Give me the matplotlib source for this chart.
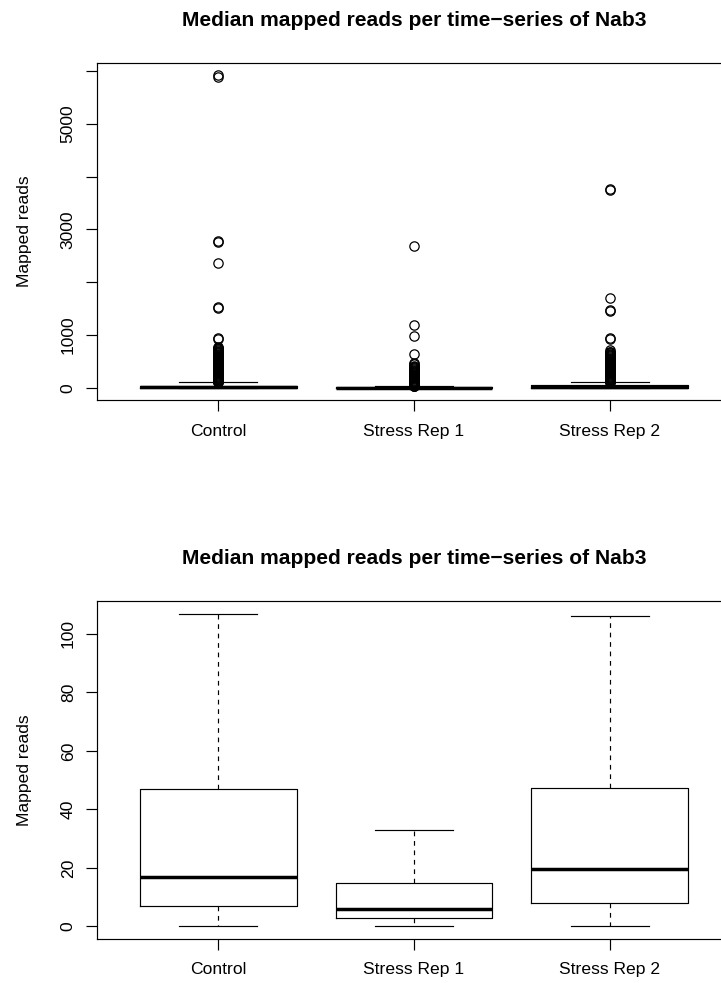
import matplotlib
matplotlib.use("Agg")
import matplotlib.pyplot as plt

plt.rcParams["font.family"] = ["Liberation Sans", "DejaVu Sans"]

# Per-group summary of median mapped reads
groups = ["Control", "Stress Rep 1", "Stress Rep 2"]
q1 = [7, 3, 8]
medians = [17, 6, 19.5]
q3 = [47, 15, 47.5]
whisker_low = [0, 0, 0]
whisker_high = [107, 33, 106]

# Points beyond the upper fence
control_outliers = [
    5895, 5920, 2760, 2780, 2360, 1510, 1535, 950, 935,
    785, 765, 750, 735, 720, 705, 690, 675, 660, 645, 630, 615, 600,
    585, 570, 555, 540, 525, 510, 495, 480, 465, 450, 435, 420, 405,
    390, 375, 360, 345, 330, 315, 300, 285, 270, 255, 240, 225, 212,
    200, 188, 176, 165, 155, 146, 138, 130, 123, 117, 112, 108,
]
rep1_outliers = [
    2680, 1200, 980, 635, 475, 455,
    420, 405, 390, 375, 360, 345, 330, 315, 300, 285, 270, 255, 240,
    225, 210, 195, 180, 166, 153, 141, 130, 120, 110, 100, 91, 83, 75,
    68, 62, 56, 50, 45, 41, 37, 35,
]
rep2_outliers = [
    3745, 3770, 1710, 1450, 1470, 955, 930, 725,
    690, 675, 660, 645, 630, 615, 600, 585, 570, 555, 540, 525, 510,
    495, 480, 465, 450, 435, 420, 405, 390, 375, 360, 345, 330, 315,
    300, 285, 270, 255, 240, 225, 212, 200, 188, 176, 165, 155, 146,
    138, 130, 123, 117, 112, 108,
]
outliers = [control_outliers, rep1_outliers, rep2_outliers]

title = "Median mapped reads per time\u2212series of Nab3"
ylabel = "Mapped reads"

top_ticks = [0, 1000, 2000, 3000, 4000, 5000, 6000]
top_labels = ["0", "1000", "", "3000", "", "5000", ""]
bottom_ticks = [0, 20, 40, 60, 80, 100]
bottom_labels = ["0", "20", "40", "60", "80", "100"]

W, H = 721, 983
fig = plt.figure(figsize=(W / 100, H / 100), dpi=100)

LW = 0.85
TICK_FS = 12.6
TITLE_FS = 15.1


def make_stats(with_fliers):
    stats = []
    for i, g in enumerate(groups):
        stats.append(dict(
            label=g, q1=q1[i], med=medians[i], q3=q3[i],
            whislo=whisker_low[i], whishi=whisker_high[i],
            fliers=outliers[i] if with_fliers else [],
        ))
    return stats


def draw_panel(rect, with_fliers, yticks, ylabels):
    ax = fig.add_axes(rect)
    stats = make_stats(with_fliers)
    ax.bxp(
        stats, positions=[1, 2, 3], widths=0.8, capwidths=0.4,
        showfliers=with_fliers,
        boxprops=dict(color="black", linewidth=LW),
        medianprops=dict(color="black", linewidth=2.5, solid_capstyle="butt"),
        whiskerprops=dict(color="black", linewidth=LW, linestyle=(0, (4, 4))),
        capprops=dict(color="black", linewidth=LW),
        flierprops=dict(marker="o", markerfacecolor="none",
                        markeredgecolor="black", markersize=6.7,
                        markeredgewidth=0.9, linestyle="none"),
    )
    lo = min(whisker_low)
    hi = max(whisker_high)
    if with_fliers:
        hi = max(hi, max(max(o) for o in outliers))
    span = hi - lo
    ax.set_ylim(lo - 0.04 * span, hi + 0.04 * span)
    ax.set_xlim(0.38, 3.62)

    ax.set_xticks([1, 2, 3])
    ax.set_xticklabels(groups, fontsize=TICK_FS)
    ax.set_yticks(yticks)
    ax.set_yticklabels(ylabels, fontsize=TICK_FS, rotation=90, va="center")
    ax.tick_params(axis="both", direction="out", length=7.7, width=LW,
                   color="black")
    ax.tick_params(axis="x", pad=9.0)
    ax.tick_params(axis="y", pad=7.6)
    for s in ax.spines.values():
        s.set_linewidth(LW)
        s.set_color("black")

    ax.set_ylabel(ylabel, fontsize=TICK_FS)
    ax.yaxis.set_label_coords(-0.103, 0.5)
    ax.set_title(title, fontsize=TITLE_FS, fontweight="bold", pad=26.3)
    return ax


left = 97 / W
width = 634 / W
# top panel: plot region spans y = 62.7 .. 400.5 px
draw_panel([left, 1 - 400.5 / H, width, (400.5 - 62.7) / H], True,
           top_ticks, top_labels)
# bottom panel: plot region spans y = 601 .. 939 px
draw_panel([left, 1 - 939 / H, width, (939 - 601) / H], False,
           bottom_ticks, bottom_labels)

fig.savefig("out.png", dpi=100)
